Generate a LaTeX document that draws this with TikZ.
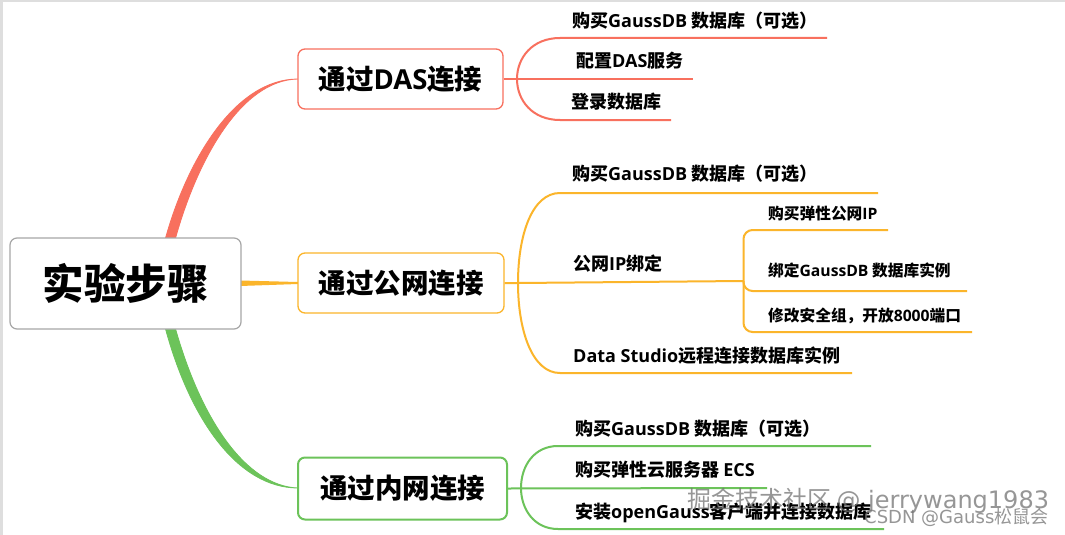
\documentclass[tikz,border=0pt]{standalone}
\usepackage{fontspec}
\usepackage{xcolor}
\setmainfont{Noto Sans CJK SC}
\newfontfamily\latfont{Open Sans}
\newfontfamily\markfont{DejaVu Sans}
\newcommand{\lat}[1]{{\latfont #1}}
\definecolor{dascol}{HTML}{F8705E}
\definecolor{pubcol}{HTML}{FBB52B}
\definecolor{privcol}{HTML}{6CC35A}
\tikzset{
  rootbox/.style={draw=black!35, line width=1.2pt, rounded corners=7pt, fill=white, minimum width=231pt, minimum height=91pt, inner sep=0pt, font=\fontsize{41.5}{44}\selectfont\bfseries},
  branchbox/.style={line width=1.3pt, rounded corners=7pt, fill=white, inner sep=0pt, font=\fontsize{27.5}{30}\selectfont\bfseries},
  leaf/.style={anchor=west, inner sep=0pt, font=\fontsize{18}{20}\selectfont\bfseries},
  subleaf/.style={anchor=west, inner sep=0pt, font=\fontsize{15.7}{18}\selectfont\bfseries},
  wire/.style={line width=2pt},
  wmark/.style={anchor=west, inner sep=0pt, text=black!55, opacity=.75}
}
\begin{document}
\begin{tikzpicture}[x=1pt,y=-1pt]
  \useasboundingbox (0,0) rectangle (1065,535);
  \fill[black!13] (0,0) rectangle (1065,535);
  \fill[white] (3,2.5) rectangle (1065,535);

  % thick branches from the root
  \coordinate (dasa) at (165,240);
  \coordinate (dasc) at (175,240);
  \coordinate (priva) at (165,327);
  \coordinate (privc) at (175,327);
  \coordinate (das0) at (298,79);
  \coordinate (pub0) at (298,283);
  \coordinate (priv0) at (298,488);
  \fill[dascol, draw=dascol, line width=.8pt] (dasa) .. controls (187,160) and (235,79) .. (das0)
    .. controls (241,80) and (197,160) .. (dasc) -- cycle;
  \fill[privcol, draw=privcol, line width=.8pt] (priva) .. controls (190,420) and (238,488) .. (priv0)
    .. controls (246,486) and (201,420) .. (privc) -- cycle;
  \fill[pubcol] (240,280.5) -- (298,282) -- (298,284) -- (240,286) -- cycle;

  \node[rootbox] (root) at (125.5,283.5) {实验步骤};
  \node[branchbox, draw=dascol, minimum width=205pt, minimum height=60pt] (das) at (400.5,79) {通过\lat{DAS}连接};
  \node[branchbox, draw=pubcol, minimum width=206pt, minimum height=60pt] (pub) at (401,283) {通过公网连接};
  \node[branchbox, draw=privcol, line width=2pt, minimum width=209pt, minimum height=62pt] (priv) at (402.5,488.5) {通过内网连接};

  % DAS
  \coordinate (dasj) at (517,79);
  \coordinate (dastop) at (827,38);
  \coordinate (dasmid) at (693,79);
  \coordinate (dasbot) at (671,120);
  \node[leaf] (das1) at (572,21) {购买\lat{GaussDB} 数据库（可选）};
  \node[leaf] (das2) at (576,61) {配置\lat{DAS}服务};
  \node[leaf] (das3) at (571,102) {登录数据库};
  \draw[wire, dascol] (das.east) -- (dasmid);
  \draw[wire, dascol] (dastop) -- (560,38) .. controls (532,38) and (517,58) .. (dasj)
    .. controls (517,100) and (532,120) .. (560,120) -- (dasbot);

  % public network
  \coordinate (pubj) at (518,283);
  \coordinate (pubtop) at (878,193);
  \coordinate (pubmid) at (743.5,281);
  \coordinate (pubbot) at (852,373);
  \node[leaf] (pub1) at (572,174) {购买\lat{GaussDB} 数据库（可选）};
  \node[leaf] (pub2) at (573,264) {公网\lat{IP}绑定};
  \node[leaf] (pub3) at (573,356) {\lat{Data Studio}远程连接数据库实例};
  \draw[wire, pubcol] (pub.east) -- (pubj) -- (pubmid);
  \draw[wire, pubcol] (pubtop) -- (560,193) .. controls (532,193) and (518,235) .. (pubj)
    .. controls (518,330) and (532,373) .. (560,373) -- (pubbot);

  \coordinate (subtop) at (888,230);
  \coordinate (submid) at (967,291);
  \coordinate (subbot) at (972,332);
  \node[subleaf] (sub1) at (768,214) {购买弹性公网\lat{IP}};
  \node[subleaf] (sub2) at (768,270) {绑定\lat{GaussDB} 数据库实例};
  \node[subleaf] (sub3) at (768,316) {修改安全组，开放\lat{8000}端口};
  \draw[wire, pubcol, rounded corners=9pt] (subtop) -- (743.5,230) -- (743.5,332) -- (subbot);
  \draw[wire, pubcol, rounded corners=9pt] (pubmid) -- (743.5,291) -- (submid);

  % private network
  \coordinate (privj) at (521,488);
  \coordinate (privtop) at (871,446);
  \coordinate (privmid) at (767,488);
  \coordinate (privbot) at (884,529);
  \node[leaf] (priv1) at (575,429) {购买\lat{GaussDB} 数据库（可选）};
  \node[leaf] (priv2) at (575,470) {购买弹性云服务器 \lat{ECS}};
  \node[leaf] (priv3) at (575,513) {安装\lat{openGauss}客户端并连接数据库};
  \draw[wire, privcol] (priv.east) -- (privmid);
  \draw[wire, privcol] (privtop) -- (558,446) .. controls (534,446) and (521,466) .. (privj)
    .. controls (521,509) and (534,529) .. (558,529) -- (privbot);

  % watermarks
  \node[wmark, font=\fontsize{24}{26}\selectfont] (mark1) at (687,501) {掘金技术社区 {\markfont @ jerrywang1983}};
  \node[wmark, font=\fontsize{18}{20}\selectfont] (mark2) at (864,517) {{\markfont CSDN @Gauss}松鼠会};
\end{tikzpicture}
\end{document}
